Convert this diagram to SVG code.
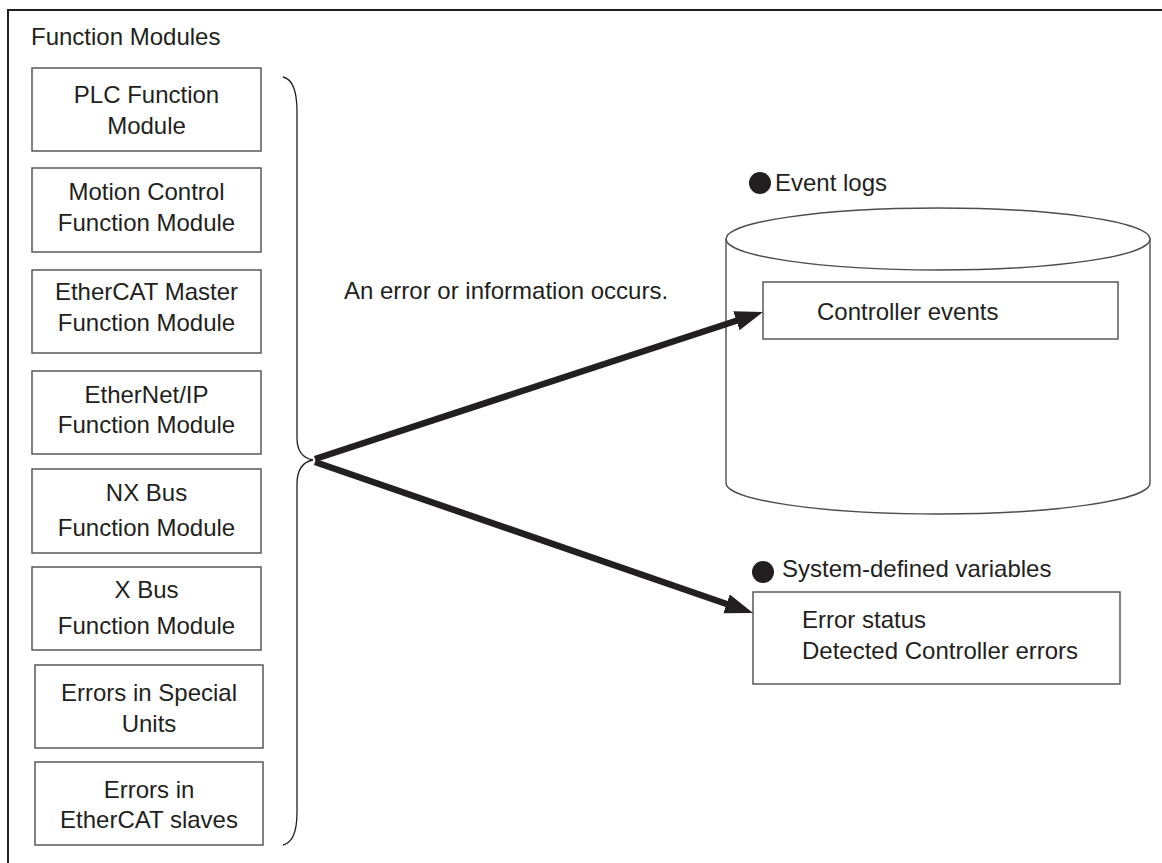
<svg xmlns="http://www.w3.org/2000/svg" width="1162" height="863" viewBox="0 0 1162 863">
<style>
text{font-family:"Liberation Sans",Arial,sans-serif;font-size:24px;fill:#231f20}
.c{text-anchor:middle}
.box{fill:#fff;stroke:#4d4d4d;stroke-width:1.4}
.thin{fill:none;stroke:#231f20;stroke-width:1.3}
.arr{fill:none;stroke:#231f20;stroke-width:6.5}
</style>
<defs>
<marker id="ah" markerUnits="userSpaceOnUse" markerWidth="30" markerHeight="22" refX="4" refY="10" orient="auto">
<path d="M0,0 L28,10 L0,20 z" fill="#231f20"/>
</marker>
</defs>
<rect width="1162" height="863" fill="#fff"/>
<path d="M8,863 V10 H1162" fill="none" stroke="#231f20" stroke-width="2"/>
<text x="31" y="45">Function Modules</text>

<g id="plc"><rect class="box" x="32" y="68" width="229" height="83"/><text class="c" x="146.5" y="103">PLC Function</text><text class="c" x="146.5" y="134">Module</text></g>
<g id="motion"><rect class="box" x="32" y="168" width="229" height="84"/><text class="c" x="146.5" y="200">Motion Control</text><text class="c" x="146.5" y="231">Function Module</text></g>
<g id="ecatmaster"><rect class="box" x="32" y="270" width="229" height="83"/><text class="c" x="146.5" y="300">EtherCAT Master</text><text class="c" x="146.5" y="331">Function Module</text></g>
<g id="eip"><rect class="box" x="32" y="371" width="229" height="83"/><text class="c" x="146.5" y="403">EtherNet/IP</text><text class="c" x="146.5" y="433">Function Module</text></g>
<g id="nxbus"><rect class="box" x="32" y="469" width="229" height="84"/><text class="c" x="146.5" y="501">NX Bus</text><text class="c" x="146.5" y="536">Function Module</text></g>
<g id="xbus"><rect class="box" x="32" y="567" width="229" height="83"/><text class="c" x="146.5" y="598">X Bus</text><text class="c" x="146.5" y="634">Function Module</text></g>
<g id="special"><rect class="box" x="35" y="665" width="228" height="83"/><text class="c" x="149" y="701">Errors in Special</text><text class="c" x="149" y="732">Units</text></g>
<g id="slaves"><rect class="box" x="35" y="762" width="228" height="83"/><text class="c" x="149" y="798">Errors in</text><text class="c" x="149" y="828">EtherCAT slaves</text></g>

<g id="brace"><path class="thin" d="M283,77 Q297,80 297,112 L297,438 Q297,457 313,460 Q297,463 297,484 L297,812 Q297,842 283,845"/></g>

<text x="344" y="299">An error or information occurs.</text>

<g id="eventlogs">
<circle cx="760" cy="183" r="11" fill="#231f20"/>
<text x="775" y="191">Event logs</text>
<path class="box" d="M726,239 V483 A212,31 0 0 0 1150,483 V239"/>
<ellipse class="box" cx="938" cy="239" rx="212" ry="31"/>
<rect class="box" x="763" y="282" width="355" height="57"/>
<text x="817" y="320">Controller events</text>
</g>

<g id="sysvars">
<circle cx="763" cy="572" r="11" fill="#231f20"/>
<text x="782" y="577">System-defined variables</text>
<rect class="box" x="753" y="592" width="367" height="92"/>
<text x="802" y="628">Error status</text>
<text x="802" y="659">Detected Controller errors</text>
</g>

<g id="connectors">
<line class="arr" x1="315" y1="459" x2="740.2" y2="319.5" marker-end="url(#ah)"/>
<line class="arr" x1="315" y1="462" x2="730.3" y2="605.2" marker-end="url(#ah)"/>
</g>
</svg>
